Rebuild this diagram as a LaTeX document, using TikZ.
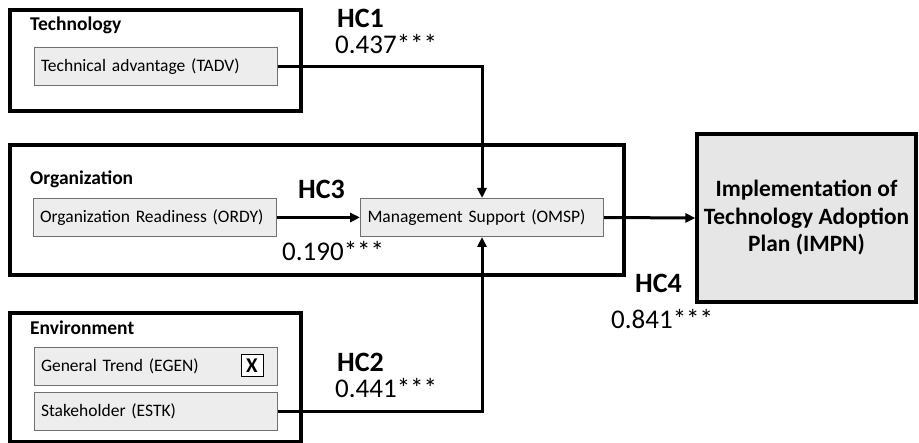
\documentclass[tikz,border=0pt]{standalone}
\usepackage{fontspec}
\setmainfont{Carlito}
\usetikzlibrary{arrows.meta}
\definecolor{ifill}{HTML}{EDEDED}
\definecolor{iline}{HTML}{707070}
\definecolor{bfill}{HTML}{E7E6E6}
\begin{document}
\begin{tikzpicture}[x=1pt,y=-1pt,
  gbox/.style={draw=black, line width=3.2pt, fill=white, minimum width=#1, inner sep=0pt},
  ibox/.style={draw=iline, line width=1pt, fill=ifill, minimum height=38pt, inner xsep=7pt, inner ysep=0pt, text width=229pt, align=left, font=\fontsize{17.5}{20}\selectfont},
  glabel/.style={anchor=west, inner sep=0pt, font=\bfseries\fontsize{19.5}{22}\selectfont},
  hc/.style={anchor=west, inner sep=0pt, font=\bfseries\fontsize{28}{32}\selectfont},
  coef/.style={anchor=west, inner sep=0pt, font=\fontsize{27}{30}\selectfont},
  conn/.style={line width=3pt, -{Triangle[length=10pt,width=9pt]}},
]
\useasboundingbox (0,0) rectangle (919,443);
% group boxes
\node[gbox=291pt, minimum height=101pt] (tech) at (155.5,60.5) {};
\node[gbox=614pt, minimum height=130pt] (org) at (317,210) {};
\node[gbox=291pt, minimum height=129pt] (env) at (155.5,377.5) {};
\node[glabel] (techl) at (30,25) {Technology};
\node[glabel] (orgl) at (30,179) {Organization};
\node[glabel] (envl) at (30,328) {Environment};
% inner boxes
\node[ibox] (tadv) at (155.5,67) {Technical advantage (TADV)};
\node[ibox] (ordy) at (154.5,217.5) {Organization Readiness (ORDY)};
\node[ibox] (omsp) at (482,217.5) {Management Support (OMSP)};
\node[ibox] (egen) at (155.5,366.5) {General Trend (EGEN)};
\node[ibox] (estk) at (155.5,411.5) {Stakeholder (ESTK)};
\node[draw=black, line width=1pt, fill=white, minimum width=22pt, minimum height=22pt, inner sep=0pt, font=\bfseries\fontsize{21}{22}\selectfont] (xbox) at (252,366) {X};
% outcome
\node[draw=black, line width=3.2pt, fill=bfill, minimum width=219pt, minimum height=168pt, align=center, font=\bfseries\fontsize{23.4}{27.5}\selectfont] (impn) at (806.5,218) {Implementation of\\Technology Adoption\\Plan (IMPN)};
% connectors
\draw[conn] (tadv.east) -| (omsp.north);
\draw[conn] (ordy.east) -- (omsp.west);
\draw[conn] (estk.east) -| (omsp.south);
\draw[conn] (omsp.east) -- (impn.west);
% labels
\node[hc] (hc1) at (337,18) {HC1};
\node[coef] (c1) at (335,44) {0.437***};
\node[hc] (hc3) at (298,189) {HC3};
\node[coef] (c3) at (282,251) {0.190***};
\node[hc] (hc2) at (337,362) {HC2};
\node[coef] (c2) at (335,388) {0.441***};
\node[hc] (hc4) at (635,283) {HC4};
\node[coef] (c4) at (611,319) {0.841***};
\end{tikzpicture}
\end{document}
